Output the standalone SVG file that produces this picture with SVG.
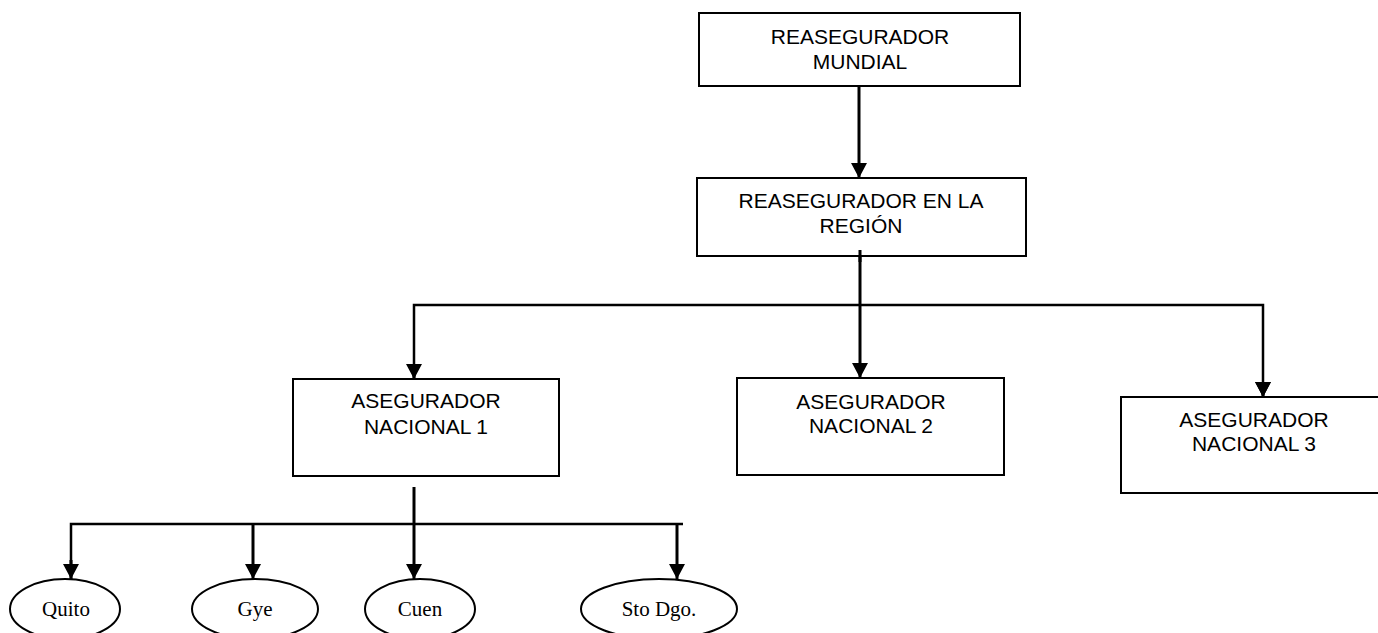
<svg xmlns="http://www.w3.org/2000/svg" width="1378" height="633" viewBox="0 0 1378 633">
<style>
.box{fill:#fff;stroke:#000;stroke-width:2}
.ell{fill:#fff;stroke:#000;stroke-width:2}
.lbl{font-family:"Liberation Sans",Arial,sans-serif;font-size:21px;fill:#000;text-anchor:middle}
.city{font-family:"Liberation Serif","Times New Roman",serif;font-size:21px;fill:#000;text-anchor:middle}
.con{fill:none;stroke:#000;stroke-width:3}
.bar{fill:none;stroke:#000;stroke-width:2.5}
</style>
<defs>
<marker id="ah" markerUnits="userSpaceOnUse" markerWidth="16" markerHeight="16" refX="15" refY="8" orient="auto">
<path d="M0,0 L15,8 L0,16 z" fill="#000"/>
</marker>
</defs>
<rect width="1378" height="633" fill="#fff"/>
<g id="connectors">
<line class="con" x1="859" y1="86" x2="859" y2="178" marker-end="url(#ah)"/>
<line class="con" x1="860" y1="250" x2="860" y2="378" marker-end="url(#ah)"/>
<polyline class="bar" points="414,378 414,305 1263,305 1263,397" marker-end="url(#ah)"/>
<line class="con" x1="1263" y1="390" x2="1263" y2="397" marker-end="url(#ah)"/>
<line class="con" x1="414" y1="370" x2="414" y2="379" marker-end="url(#ah)"/>
<line class="con" x1="414" y1="487" x2="414" y2="579" marker-end="url(#ah)"/>
<polyline class="bar" points="71,579 71,524 683,524"/>
<line class="con" x1="71" y1="560" x2="71" y2="579" marker-end="url(#ah)"/>
<line class="con" x1="253" y1="524" x2="253" y2="579" marker-end="url(#ah)"/>
<line class="con" x1="677" y1="524" x2="677" y2="579" marker-end="url(#ah)"/>
</g>
<g id="reasegurador-mundial">
<rect class="box" x="699" y="13" width="321" height="73"/>
<text class="lbl" x="860" y="44">REASEGURADOR</text>
<text class="lbl" x="860" y="69">MUNDIAL</text>
</g>
<g id="reasegurador-region">
<rect class="box" x="697" y="178" width="329" height="78"/>
<text class="lbl" x="861" y="208">REASEGURADOR EN LA</text>
<text class="lbl" x="861" y="233">REGIÓN</text>
</g>
<line class="con" x1="860" y1="250" x2="860" y2="262"/>
<g id="asegurador-nacional-1">
<rect class="box" x="293" y="379" width="266" height="97"/>
<text class="lbl" x="426" y="408">ASEGURADOR</text>
<text class="lbl" x="426" y="434">NACIONAL 1</text>
</g>
<g id="asegurador-nacional-2">
<rect class="box" x="737" y="378" width="267" height="97"/>
<text class="lbl" x="871" y="409">ASEGURADOR</text>
<text class="lbl" x="871" y="433">NACIONAL 2</text>
</g>
<g id="asegurador-nacional-3">
<rect class="box" x="1121" y="397" width="266" height="96"/>
<text class="lbl" x="1254" y="427">ASEGURADOR</text>
<text class="lbl" x="1254" y="451">NACIONAL 3</text>
</g>
<g id="quito">
<ellipse class="ell" cx="65" cy="609" rx="55" ry="30"/>
<text class="city" x="66" y="616">Quito</text>
</g>
<g id="gye">
<ellipse class="ell" cx="255" cy="609" rx="63" ry="30"/>
<text class="city" x="255" y="616">Gye</text>
</g>
<g id="cuen">
<ellipse class="ell" cx="420" cy="609" rx="55" ry="30"/>
<text class="city" x="420" y="616">Cuen</text>
</g>
<g id="sto-dgo">
<ellipse class="ell" cx="659" cy="609" rx="78" ry="30"/>
<text class="city" x="659" y="616">Sto Dgo.</text>
</g>
</svg>
